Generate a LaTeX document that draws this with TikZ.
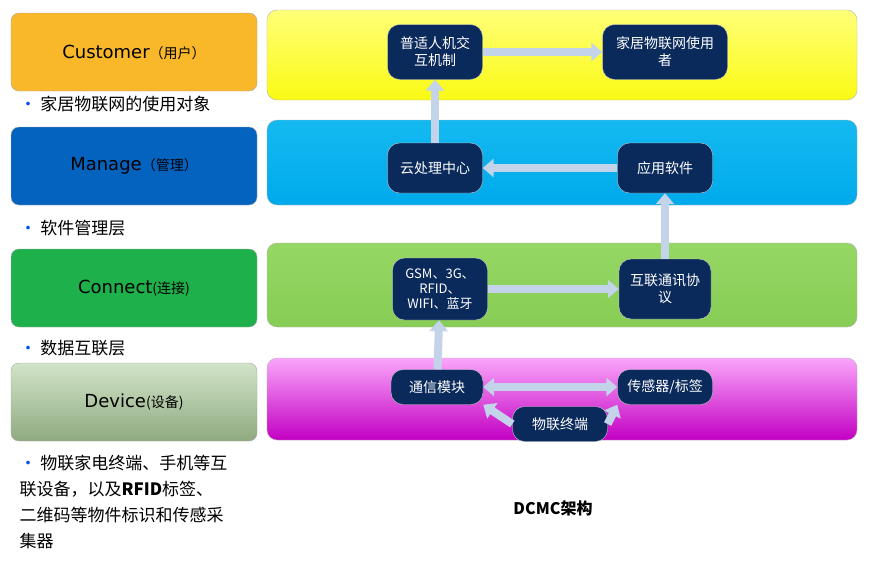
\documentclass[tikz,border=0pt]{standalone}
\usepackage{fontspec}
\setmainfont{Noto Sans CJK SC}
\newfontfamily\latn{DejaVu Sans}
\usetikzlibrary{arrows.meta,positioning}
\definecolor{navy}{HTML}{0B2A5C}
\definecolor{arrowfill}{HTML}{C3D3EA}
\tikzset{
    layer/.style={draw=gray!70, rounded corners=8pt, minimum width=246pt, minimum height=78pt, font=\latn\fontsize{18}{20}\selectfont},
    panel/.style={draw=gray!60, rounded corners=10pt},
    box/.style={fill=navy, draw=gray!40, rounded corners=12pt, text=white, align=center, font=\fontsize{14}{17}\selectfont, inner sep=2pt},
    fat/.style={-{Triangle[length=11pt,width=18pt]}, line width=8pt, arrowfill},
    bullet/.style={anchor=west, align=left, font=\fontsize{17}{26}\selectfont}
}
\begin{document}
\begin{tikzpicture}[x=1pt,y=-1pt]
    \useasboundingbox (0,0) rectangle (872,562);
    % left layer boxes
    \node[layer, fill={rgb,255:red,249;green,184;blue,42}] (cust) at (134,52) {Customer{\normalfont\fontsize{14}{16}\selectfont（用户）}};
    \node[layer, fill={rgb,255:red,5;green,99;blue,192}] (mgmt) at (134,166) {Manage{\normalfont\fontsize{14}{16}\selectfont（管理）}};
    \node[layer, fill={rgb,255:red,30;green,176;blue,74}] (conn) at (134,288) {Connect{\normalfont\fontsize{14}{16}\selectfont(连接)}};
    \node[layer, top color={rgb,255:red,210;green,228;blue,200}, bottom color={rgb,255:red,143;green,170;blue,128}] (dev) at (134,402) {Device{\normalfont\fontsize{14}{16}\selectfont(设备)}};
    % bullet texts
    \node[bullet] (b1) at (16,104) {{\color{blue!70!cyan}\textbullet} 家居物联网的使用对象};
    \node[bullet] (b2) at (16,228) {{\color{blue!70!cyan}\textbullet} 软件管理层};
    \node[bullet] (b3) at (16,348) {{\color{blue!70!cyan}\textbullet} 数据互联层};
    \node[bullet, anchor=north west] (b4) at (16,452) {{\color{blue!70!cyan}\textbullet} 物联家电终端、手机等互\\联设备，以及\textbf{RFID}标签、\\二维码等物件标识和传感采\\集器};
    % right panels
    \draw[panel, top color={rgb,255:red,255;green,255;blue,120}, bottom color={rgb,255:red,250;green,250;blue,20}] (267,10) rectangle (857,100);
    \draw[panel, top color={rgb,255:red,20;green,185;blue,240}, bottom color={rgb,255:red,0;green,170;blue,235}] (267,120) rectangle (857,205);
    \draw[panel, top color={rgb,255:red,150;green,215;blue,100}, bottom color={rgb,255:red,135;green,205;blue,85}] (267,243) rectangle (857,327);
    \draw[panel, top color={rgb,255:red,250;green,165;blue,250}, bottom color={rgb,255:red,195;green,0;blue,195}] (267,358) rectangle (857,440);
    % inner boxes
    \node[box, minimum width=95pt, minimum height=55pt] (hci) at (435,52) {普适人机交\\互机制};
    \node[box, minimum width=125pt, minimum height=55pt] (user) at (665,52) {家居物联网使用\\者};
    \node[box, minimum width=95pt, minimum height=50pt] (cloud) at (435,168) {云处理中心};
    \node[box, minimum width=95pt, minimum height=50pt] (app) at (665,168) {应用软件};
    \node[box, minimum width=95pt, minimum height=62pt, font=\fontsize{13}{15}\selectfont] (net) at (440,289) {GSM、3G、\\RFID、\\WIFI、蓝牙};
    \node[box, minimum width=92pt, minimum height=60pt] (proto) at (665,289) {互联通讯协\\议};
    \node[box, minimum width=92pt, minimum height=35pt] (comm) at (437,387) {通信模块};
    \node[box, minimum width=95pt, minimum height=35pt] (sens) at (665,387) {传感器/标签};
    \node[box, minimum width=95pt, minimum height=35pt] (term) at (560,424) {物联终端};
    % arrows
    \draw[fat] (hci) -- (user);
    \draw[fat] (cloud) -- (hci);
    \draw[fat] (app) -- (cloud);
    \draw[fat] (proto) -- (app);
    \draw[fat] (net) -- (proto);
    \draw[fat] (comm) -- (net);
    \draw[fat, {Triangle[length=11pt,width=18pt]}-{Triangle[length=11pt,width=18pt]}] (comm) -- (sens);
    \draw[fat] (term.west) -- (comm.south east);
    \draw[fat] (term.east) -- (sens.south west);
    % caption
    \node[font=\bfseries\fontsize{16}{18}\selectfont] (cap) at (553,508) {DCMC架构};
\end{tikzpicture}
\end{document}
